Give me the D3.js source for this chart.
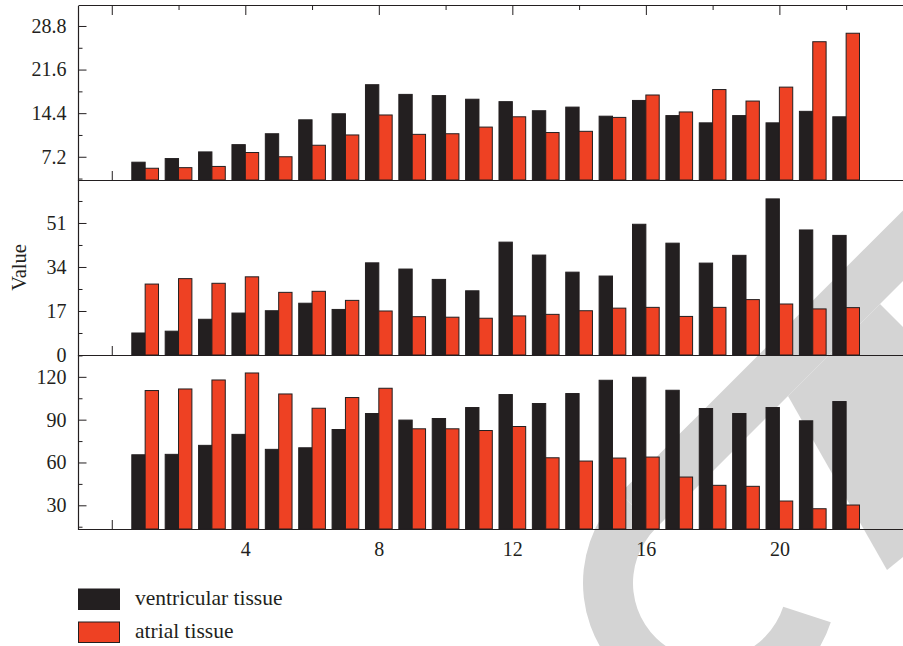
<!DOCTYPE html>
<html>
<head>
<meta charset="utf-8">
<script src="https://cdn.jsdelivr.net/npm/d3@7"></script>
<style>
  html, body { margin: 0; padding: 0; background: #fff; }
  svg { display: block; }
  text { font-family: "Liberation Serif", "DejaVu Serif", serif; fill: #231f20; }
</style>
</head>
<body>
<script>
// ---------------- data ----------------
const groups = [1, 2, 3, 4, 5, 6, 7, 8, 9, 10, 11, 12, 13, 14, 15, 16, 17, 18, 19, 20, 21, 22];
const seriesNames = ["ventricular tissue", "atrial tissue"];

const topVentricular = [6.3, 6.9, 8.0, 9.2, 11.0, 13.3, 14.3, 19.1, 17.5, 17.3, 16.7, 16.3, 14.8, 15.4, 13.9, 16.5, 14.0, 12.8, 14.0, 12.8, 14.7, 13.8];
const topAtrial      = [5.3, 5.4, 5.6, 7.9, 7.2, 9.1, 10.8, 14.1, 10.9, 11.0, 12.1, 13.8, 11.2, 11.4, 13.7, 17.4, 14.6, 18.3, 16.4, 18.7, 26.2, 27.6];

const midVentricular = [8.5, 9.2, 13.8, 16.2, 17.1, 20.0, 17.6, 35.6, 33.2, 29.2, 24.8, 43.6, 38.6, 32.0, 30.5, 50.5, 43.2, 35.5, 38.5, 60.3, 48.3, 46.2];
const midAtrial      = [27.4, 29.5, 27.7, 30.2, 24.2, 24.6, 21.1, 17.0, 14.8, 14.6, 14.2, 15.1, 15.7, 17.1, 18.1, 18.4, 14.9, 18.4, 21.4, 19.7, 17.8, 18.3];

const botVentricular = [65.4, 65.7, 72.0, 79.7, 69.2, 70.3, 83.1, 94.3, 89.7, 90.8, 98.5, 107.6, 101.3, 108.3, 117.6, 119.7, 110.6, 97.8, 94.3, 98.5, 89.2, 102.7];
const botAtrial      = [110.4, 111.5, 117.8, 122.7, 108.0, 98.0, 105.5, 112.0, 83.6, 83.6, 82.4, 85.2, 63.3, 61.0, 63.1, 63.8, 49.8, 44.0, 43.3, 33.0, 27.6, 30.2];

const topTicks = [7.2, 14.4, 21.6, 28.8];
const topTickLabels = ["7.2", "14.4", "21.6", "28.8"];
const topMinor = [3.6, 10.8, 18.0, 25.2];
const midTicks = [0, 17, 34, 51];
const midTickLabels = ["0", "17", "34", "51"];
const midMinor = [8.5, 25.5, 42.5, 59.5];
const botTicks = [30, 60, 90, 120];
const botTickLabels = ["30", "60", "90", "120"];
const botMinor = [15, 45, 75, 105, 135];
const xTickLabels = [4, 8, 12, 16, 20];
const xMinorTicks = [0, 2, 4, 6, 8, 10, 12, 14, 16, 18, 20, 22, 24];
const yAxisTitle = "Value";

// ---------------- layout ----------------
const W = 903, H = 646;
const INK = "#231f20", RED = "#ee4123";
const colors = [INK, RED];

const svg = d3.select("body").append("svg").attr("width", W).attr("height", H);

// watermark (background, behind chart)
const wm = svg.append("g").attr("fill", "#d4d4d4");
const cx = 710, cy = 583;
wm.append("path")
  .attr("transform", `translate(${cx},${cy})`)
  .attr("d", d3.arc().innerRadius(77).outerRadius(127)
    .startAngle(108 * Math.PI / 180).endAngle(315 * Math.PI / 180)());
{
  const a = 225 * Math.PI / 180;
  const o = [cx + 127 * Math.cos(a), cy + 127 * Math.sin(a)];
  const i = [cx + 77 * Math.cos(a), cy + 77 * Math.sin(a)];
  const L = 520;
  wm.append("polygon").attr("points", [o, [o[0] + L, o[1] - L], [i[0] + L, i[1] - L], i].map(p => p.join(",")).join(" "));
  wm.append("polygon").attr("points", [[788, 396], [880, 304], [903, 327], [903, 557], [887, 570]].map(p => p.join(",")).join(" "));
}

const x = d3.scaleLinear().domain([-1, 24]).range([78.4, 912.9]);
const sub = d3.scaleBand().domain(seriesNames).range([-0.4, 0.4]).padding(0);

const panels = [
  { vals: [topVentricular, topAtrial], domain: [3.36, 32.1], range: [180, 6], ticks: topTicks, labels: topTickLabels, minor: topMinor },
  { vals: [midVentricular, midAtrial], domain: [0, 67.6], range: [355, 180], ticks: midTicks, labels: midTickLabels, minor: midMinor },
  { vals: [botVentricular, botAtrial], domain: [13.4, 135.3], range: [529, 355], ticks: botTicks, labels: botTickLabels, minor: botMinor }
];

const axisLeftX = 78.5;
const tickFont = "20px";

panels.forEach((p, pi) => {
  const y = d3.scaleLinear().domain(p.domain).range(p.range);
  const g = svg.append("g");
  const yBottom = p.range[0];

  // bottom inward ticks (behind bars)
  const bt = g.append("g").attr("transform", `translate(0,${yBottom})`)
    .call(d3.axisBottom(x).tickValues(xMinorTicks).tickSize(-9).tickFormat(""));
  bt.select(".domain").remove();
  bt.selectAll(".tick line").attr("stroke", INK).attr("stroke-width", 1)
    .attr("y2", d => (d % 4 === 0 ? -9 : -4));

  // bars
  seriesNames.forEach((s, si) => {
    g.append("g").selectAll("rect").data(groups).join("rect")
      .attr("x", (d) => x(d + sub(s)))
      .attr("width", (d) => x(d + sub(s) + sub.bandwidth()) - x(d + sub(s)))
      .attr("y", (d, k) => y(p.vals[si][k]))
      .attr("height", (d, k) => yBottom - y(p.vals[si][k]))
      .attr("fill", colors[si])
      .attr("stroke", INK)
      .attr("stroke-width", 1);
  });

  // y axis major
  const ya = g.append("g").attr("transform", `translate(${axisLeftX},0)`)
    .call(d3.axisLeft(y).tickValues(p.ticks).tickSize(-8).tickPadding(12)
      .tickFormat((d, k) => p.labels[k]));
  ya.select(".domain").remove();
  ya.selectAll(".tick line").attr("stroke", INK);
  ya.selectAll(".tick text").style("font-size", tickFont).attr("fill", INK)
    .style("font-family", '"Liberation Serif", serif');
  // y axis minor
  const ym = g.append("g").attr("transform", `translate(${axisLeftX},0)`)
    .call(d3.axisLeft(y).tickValues(p.minor).tickSize(-4).tickFormat(""));
  ym.select(".domain").remove();
  ym.selectAll(".tick line").attr("stroke", INK);

  // baseline of panel
  g.append("line").attr("x1", axisLeftX).attr("x2", W)
    .attr("y1", yBottom + 0.5).attr("y2", yBottom + 0.5)
    .attr("stroke", INK).attr("stroke-width", 1.2);
  // left axis line
  g.append("line").attr("x1", axisLeftX).attr("x2", axisLeftX)
    .attr("y1", p.range[1]).attr("y2", yBottom + 1)
    .attr("stroke", INK).attr("stroke-width", 1.2);
});

// top frame with ticks
const ta = svg.append("g").attr("transform", "translate(0,6)")
  .call(d3.axisTop(x).tickValues(xMinorTicks).tickSize(-9).tickFormat(""));
ta.select(".domain").remove();
ta.selectAll(".tick line").attr("stroke", INK).attr("y2", d => (d % 4 === 0 ? 9 : 4));
svg.append("line").attr("x1", axisLeftX).attr("x2", W).attr("y1", 5.5).attr("y2", 5.5)
  .attr("stroke", INK).attr("stroke-width", 1.2);

// x tick labels at bottom
const xa = svg.append("g").attr("transform", "translate(0,529)")
  .call(d3.axisBottom(x).tickValues(xTickLabels).tickSize(0).tickPadding(13));
xa.select(".domain").remove();
xa.selectAll(".tick text").style("font-size", tickFont).attr("fill", INK)
  .style("font-family", '"Liberation Serif", serif');

// y title
svg.append("text")
  .attr("transform", "translate(26,267.5) rotate(-90)")
  .attr("text-anchor", "middle")
  .style("font-size", "20.5px")
  .text(yAxisTitle);

// legend
const leg = svg.append("g");
seriesNames.forEach((s, i) => {
  const yy = 589 + i * 33;
  leg.append("rect").attr("x", 78.5).attr("y", yy).attr("width", 41).attr("height", 20.5)
    .attr("fill", colors[i]).attr("stroke", INK).attr("stroke-width", 1);
  leg.append("text").attr("x", 135).attr("y", yy + 16)
    .style("font-size", "21.5px").text(s);
});
</script>
</body>
</html>
